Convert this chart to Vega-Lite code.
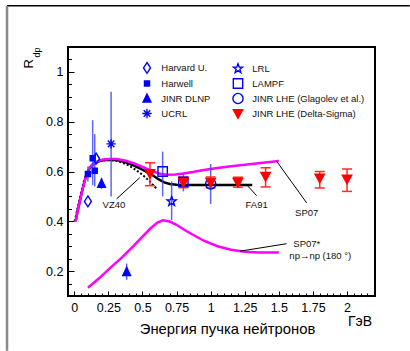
{
  "$schema": "https://vega.github.io/schema/vega-lite/v6.json",
  "width": 307,
  "height": 249,
  "autosize": "none",
  "padding": {"left": 68, "top": 47, "right": 35, "bottom": 55},
  "background": "white",
  "config": {
    "view": {"stroke": "black", "strokeWidth": 2},
    "font": "Liberation Sans",
    "axis": {"grid": false, "labelFont": "Liberation Sans", "labelFontSize": 12.5, "labelColor": "#000", "titleFont": "Liberation Sans", "titleColor": "#000", "tickColor": "#000", "tickWidth": 1}
  },
  "datasets": {
    "frameTop": [{"x": -0.493, "x2": 2.46, "y": 1.266}],
    "frameLeft": [{"x": -0.493, "y": 1.266, "y2": -0.12}],
    "curves": [
      {"series": "SP07", "E": 0.01, "R": 0.40}, {"series": "SP07", "E": 0.03, "R": 0.455}, {"series": "SP07", "E": 0.054, "R": 0.514}, {"series": "SP07", "E": 0.075, "R": 0.56}, {"series": "SP07", "E": 0.09, "R": 0.59}, {"series": "SP07", "E": 0.115, "R": 0.618}, {"series": "SP07", "E": 0.14, "R": 0.632}, {"series": "SP07", "E": 0.18, "R": 0.643}, {"series": "SP07", "E": 0.21, "R": 0.648}, {"series": "SP07", "E": 0.26, "R": 0.65}, {"series": "SP07", "E": 0.31, "R": 0.65}, {"series": "SP07", "E": 0.37, "R": 0.644}, {"series": "SP07", "E": 0.43, "R": 0.634}, {"series": "SP07", "E": 0.48, "R": 0.623}, {"series": "SP07", "E": 0.53, "R": 0.611}, {"series": "SP07", "E": 0.58, "R": 0.6}, {"series": "SP07", "E": 0.63, "R": 0.591}, {"series": "SP07", "E": 0.68, "R": 0.587}, {"series": "SP07", "E": 0.74, "R": 0.588}, {"series": "SP07", "E": 0.8, "R": 0.592}, {"series": "SP07", "E": 0.87, "R": 0.598}, {"series": "SP07", "E": 0.95, "R": 0.606}, {"series": "SP07", "E": 1.05, "R": 0.614}, {"series": "SP07", "E": 1.15, "R": 0.621}, {"series": "SP07", "E": 1.25, "R": 0.627}, {"series": "SP07", "E": 1.35, "R": 0.633}, {"series": "SP07", "E": 1.45, "R": 0.639}, {"series": "SP07", "E": 1.5, "R": 0.642},
      {"series": "FA91", "E": 0.01, "R": 0.40}, {"series": "FA91", "E": 0.03, "R": 0.455}, {"series": "FA91", "E": 0.054, "R": 0.514}, {"series": "FA91", "E": 0.075, "R": 0.56}, {"series": "FA91", "E": 0.09, "R": 0.588}, {"series": "FA91", "E": 0.115, "R": 0.615}, {"series": "FA91", "E": 0.14, "R": 0.63}, {"series": "FA91", "E": 0.18, "R": 0.641}, {"series": "FA91", "E": 0.21, "R": 0.645}, {"series": "FA91", "E": 0.26, "R": 0.647}, {"series": "FA91", "E": 0.31, "R": 0.646}, {"series": "FA91", "E": 0.37, "R": 0.638}, {"series": "FA91", "E": 0.43, "R": 0.626}, {"series": "FA91", "E": 0.48, "R": 0.613}, {"series": "FA91", "E": 0.53, "R": 0.598}, {"series": "FA91", "E": 0.58, "R": 0.583}, {"series": "FA91", "E": 0.62, "R": 0.568}, {"series": "FA91", "E": 0.66, "R": 0.556}, {"series": "FA91", "E": 0.7, "R": 0.55}, {"series": "FA91", "E": 0.75, "R": 0.547}, {"series": "FA91", "E": 0.85, "R": 0.546}, {"series": "FA91", "E": 1.0, "R": 0.546}, {"series": "FA91", "E": 1.15, "R": 0.546}, {"series": "FA91", "E": 1.305, "R": 0.546},
      {"series": "VZ40", "E": 0.003, "R": 0.40}, {"series": "VZ40", "E": 0.025, "R": 0.455}, {"series": "VZ40", "E": 0.05, "R": 0.515}, {"series": "VZ40", "E": 0.07, "R": 0.56}, {"series": "VZ40", "E": 0.085, "R": 0.585}, {"series": "VZ40", "E": 0.11, "R": 0.612}, {"series": "VZ40", "E": 0.135, "R": 0.628}, {"series": "VZ40", "E": 0.17, "R": 0.64}, {"series": "VZ40", "E": 0.21, "R": 0.645}, {"series": "VZ40", "E": 0.26, "R": 0.646}, {"series": "VZ40", "E": 0.31, "R": 0.643}, {"series": "VZ40", "E": 0.35, "R": 0.636}, {"series": "VZ40", "E": 0.4, "R": 0.624}, {"series": "VZ40", "E": 0.45, "R": 0.607}, {"series": "VZ40", "E": 0.5, "R": 0.587}, {"series": "VZ40", "E": 0.55, "R": 0.562}, {"series": "VZ40", "E": 0.61, "R": 0.527},
      {"series": "SP07*", "E": 0.1, "R": 0.133}, {"series": "SP07*", "E": 0.18, "R": 0.17}, {"series": "SP07*", "E": 0.26, "R": 0.211}, {"series": "SP07*", "E": 0.35, "R": 0.255}, {"series": "SP07*", "E": 0.43, "R": 0.298}, {"series": "SP07*", "E": 0.5, "R": 0.338}, {"series": "SP07*", "E": 0.56, "R": 0.372}, {"series": "SP07*", "E": 0.61, "R": 0.395}, {"series": "SP07*", "E": 0.65, "R": 0.404}, {"series": "SP07*", "E": 0.7, "R": 0.399}, {"series": "SP07*", "E": 0.75, "R": 0.386}, {"series": "SP07*", "E": 0.8, "R": 0.368}, {"series": "SP07*", "E": 0.87, "R": 0.346}, {"series": "SP07*", "E": 0.95, "R": 0.322}, {"series": "SP07*", "E": 1.05, "R": 0.3}, {"series": "SP07*", "E": 1.15, "R": 0.286}, {"series": "SP07*", "E": 1.25, "R": 0.278}, {"series": "SP07*", "E": 1.35, "R": 0.275}, {"series": "SP07*", "E": 1.5, "R": 0.275}
    ],
    "leaders": [
      {"E": 0.31, "R": 0.49, "E2": 0.48, "R2": 0.575},
      {"E": 1.265, "R": 0.546, "E2": 1.337, "R2": 0.503},
      {"E": 1.484, "R": 0.641, "E2": 1.704, "R2": 0.474},
      {"E": 1.215, "R": 0.28, "E2": 1.557, "R2": 0.31}
    ],
    "points": [
      {"exp": "Harvard U.", "E": 0.1, "R": 0.48},
      {"exp": "Harvard U.", "E": 0.16, "R": 0.652},
      {"exp": "Harwell", "E": 0.135, "R": 0.653},
      {"exp": "Harwell", "E": 0.15, "R": 0.603},
      {"exp": "Harwell", "E": 0.1, "R": 0.59},
      {"exp": "JINR DLNP", "E": 0.2, "R": 0.551},
      {"exp": "JINR DLNP", "E": 0.384, "R": 0.197},
      {"exp": "UCRL", "E": 0.27, "R": 0.711},
      {"exp": "LRL", "E": 0.714, "R": 0.48},
      {"exp": "LAMPF", "E": 0.648, "R": 0.6},
      {"exp": "LAMPF", "E": 0.8, "R": 0.558},
      {"exp": "JINR LHE (Glagolev et al.)", "E": 1.0, "R": 0.55},
      {"exp": "JINR LHE (Delta-Sigma)", "E": 0.555, "R": 0.592},
      {"exp": "JINR LHE (Delta-Sigma)", "E": 0.8, "R": 0.556},
      {"exp": "JINR LHE (Delta-Sigma)", "E": 1.0, "R": 0.557},
      {"exp": "JINR LHE (Delta-Sigma)", "E": 1.2, "R": 0.557},
      {"exp": "JINR LHE (Delta-Sigma)", "E": 1.403, "R": 0.581},
      {"exp": "JINR LHE (Delta-Sigma)", "E": 1.8, "R": 0.574},
      {"exp": "JINR LHE (Delta-Sigma)", "E": 2.0, "R": 0.57}
    ],
    "blueErr": [
      {"E": 0.135, "lo": 0.545, "hi": 0.806},
      {"E": 0.15, "lo": 0.54, "hi": 0.75},
      {"E": 0.1, "lo": 0.56, "hi": 0.62},
      {"E": 0.2, "lo": 0.53, "hi": 0.575},
      {"E": 0.384, "lo": 0.165, "hi": 0.23},
      {"E": 0.27, "lo": 0.5, "hi": 0.92},
      {"E": 0.714, "lo": 0.405, "hi": 0.56},
      {"E": 0.648, "lo": 0.5, "hi": 0.68},
      {"E": 0.8, "lo": 0.52, "hi": 0.594},
      {"E": 1.0, "lo": 0.47, "hi": 0.63}
    ],
    "redErr": [
      {"E": 0.555, "lo": 0.543, "hi": 0.635},
      {"E": 0.8, "lo": 0.535, "hi": 0.578},
      {"E": 1.0, "lo": 0.534, "hi": 0.578},
      {"E": 1.2, "lo": 0.537, "hi": 0.577},
      {"E": 1.403, "lo": 0.538, "hi": 0.615},
      {"E": 1.8, "lo": 0.534, "hi": 0.6},
      {"E": 2.0, "lo": 0.52, "hi": 0.61}
    ],
    "notesCenter": [
      {"label": "VZ40", "E": 0.291, "R": 0.4635},
      {"label": "FA91", "E": 1.337, "R": 0.4635},
      {"label": "SP07", "E": 1.704, "R": 0.434}
    ],
    "notesLeft": [
      {"label": "SP07*", "E": 1.606, "R": 0.307},
      {"label": "np→np (180 °)", "E": 1.577, "R": 0.259}
    ],
    "unit": [{"label": "ГэВ", "E": 2.095, "R": -0.022}],
    "yR": [{"label": "R", "E": -0.332, "R": 1.032}],
    "ySub": [{"label": "dp", "E": -0.27, "R": 1.078}]
  },
  "layer": [
    {
      "data": {"name": "frameTop"},
      "mark": {"type": "rule", "color": "#000", "strokeWidth": 1.5},
      "encoding": {
        "x": {"field": "x", "type": "quantitative", "scale": {"domain": [-0.046, 2.205], "nice": false, "zero": false}, "axis": null},
        "x2": {"field": "x2"},
        "y": {"field": "y", "type": "quantitative", "scale": {"domain": [0.1, 1.1], "nice": false, "zero": false}, "axis": null}
      }
    },
    {
      "data": {"name": "frameLeft"},
      "mark": {"type": "rule", "color": "#8a8a8a", "strokeWidth": 2.5},
      "encoding": {
        "x": {"field": "x", "type": "quantitative", "axis": null},
        "y": {"field": "y", "type": "quantitative", "axis": null},
        "y2": {"field": "y2"}
      }
    },
    {
      "data": {"name": "curves"},
      "transform": [{"filter": "datum.series === 'FA91'"}],
      "mark": {"type": "line", "color": "#000", "strokeWidth": 2.5},
      "encoding": {
        "x": {"field": "E", "type": "quantitative", "axis": {"orient": "bottom", "values": [0, 0.25, 0.5, 0.75, 1, 1.25, 1.5, 1.75, 2], "labelExpr": "'' + datum.value", "ticks": false, "domain": false, "labelPadding": 5, "labelFlush": false, "labelOverlap": false, "title": "Энергия пучка нейтронов", "titleFontSize": 14.8, "titleFontWeight": "normal", "titleX": 159, "titleY": 37, "titleBaseline": "alphabetic", "titleAlign": "center", "titleAnchor": null}},
        "y": {"field": "R", "type": "quantitative", "axis": {"orient": "left", "values": [0.2, 0.4, 0.6, 0.8, 1], "labelExpr": "'' + datum.value", "ticks": false, "domain": false, "labelPadding": 5, "labelFlush": false, "labelOverlap": false, "title": null}}
      }
    },
    {
      "data": {"name": "curves"},
      "transform": [{"filter": "datum.series === 'VZ40'"}],
      "mark": {"type": "line", "color": "#000", "strokeWidth": 2, "strokeDash": [2, 2]},
      "encoding": {
        "x": {"field": "E", "type": "quantitative", "axis": {"orient": "bottom", "values": [0, 0.25, 0.5, 0.75, 1, 1.25, 1.5, 1.75, 2], "labels": false, "domain": false, "ticks": true, "tickSize": -5, "title": null}},
        "y": {"field": "R", "type": "quantitative", "axis": {"orient": "left", "values": [0.2, 0.4, 0.6, 0.8, 1], "labels": false, "domain": false, "ticks": true, "tickSize": -6, "title": null}}
      }
    },
    {
      "data": {"name": "curves"},
      "transform": [{"filter": "datum.series === 'SP07'"}],
      "mark": {"type": "line", "color": "#ff00ff", "strokeWidth": 2.5},
      "encoding": {
        "x": {"field": "E", "type": "quantitative", "axis": {"orient": "bottom", "values": [0.05, 0.1, 0.15, 0.2, 0.3, 0.35, 0.4, 0.45, 0.55, 0.6, 0.65, 0.7, 0.8, 0.85, 0.9, 0.95, 1.05, 1.1, 1.15, 1.2, 1.3, 1.35, 1.4, 1.45, 1.55, 1.6, 1.65, 1.7, 1.8, 1.85, 1.9, 1.95, 2.05, 2.1, 2.15, 2.2], "labels": false, "domain": false, "ticks": true, "tickSize": -3, "title": null}},
        "y": {"field": "R", "type": "quantitative", "axis": {"orient": "left", "values": [0.15, 0.25, 0.3, 0.35, 0.45, 0.5, 0.55, 0.65, 0.7, 0.75, 0.85, 0.9, 0.95, 1.05], "labels": false, "domain": false, "ticks": true, "tickSize": -3.5, "title": null}}
      }
    },
    {
      "data": {"name": "curves"},
      "transform": [{"filter": "datum.series === 'SP07*'"}],
      "mark": {"type": "line", "color": "#ff00ff", "strokeWidth": 2.5},
      "encoding": {
        "x": {"field": "E", "type": "quantitative", "axis": null},
        "y": {"field": "R", "type": "quantitative", "axis": null}
      }
    },
    {
      "data": {"name": "leaders"},
      "mark": {"type": "rule", "color": "#000", "strokeWidth": 1},
      "encoding": {
        "x": {"field": "E", "type": "quantitative", "axis": null},
        "x2": {"field": "E2"},
        "y": {"field": "R", "type": "quantitative", "axis": null},
        "y2": {"field": "R2"}
      }
    },
    {
      "data": {"name": "blueErr"},
      "mark": {"type": "rule", "color": "#3f4cf2", "strokeWidth": 1.5, "opacity": 0.85},
      "encoding": {
        "x": {"field": "E", "type": "quantitative", "axis": null},
        "y": {"field": "lo", "type": "quantitative", "axis": null},
        "y2": {"field": "hi"}
      }
    },
    {
      "data": {"name": "redErr"},
      "mark": {"type": "rule", "color": "#ff2a2a", "strokeWidth": 1.5},
      "encoding": {
        "x": {"field": "E", "type": "quantitative", "axis": null},
        "y": {"field": "lo", "type": "quantitative", "axis": null},
        "y2": {"field": "hi"}
      }
    },
    {
      "data": {"name": "redErr"},
      "mark": {"type": "tick", "orient": "horizontal", "color": "#ff2a2a", "size": 10, "thickness": 1.5, "opacity": 1},
      "encoding": {
        "x": {"field": "E", "type": "quantitative", "axis": null},
        "y": {"field": "lo", "type": "quantitative", "axis": null}
      }
    },
    {
      "data": {"name": "redErr"},
      "mark": {"type": "tick", "orient": "horizontal", "color": "#ff2a2a", "size": 10, "thickness": 1.5, "opacity": 1},
      "encoding": {
        "x": {"field": "E", "type": "quantitative", "axis": null},
        "y": {"field": "hi", "type": "quantitative", "axis": null}
      }
    },
    {
      "data": {"name": "points"},
      "mark": {"type": "point", "size": 144, "strokeWidth": 1.4, "opacity": 1},
      "encoding": {
        "x": {"field": "E", "type": "quantitative", "axis": null},
        "y": {"field": "R", "type": "quantitative", "axis": null},
        "shape": {
          "field": "exp", "type": "nominal",
          "scale": {
            "domain": ["Harvard U.", "Harwell", "JINR DLNP", "UCRL", "LRL", "LAMPF", "JINR LHE (Glagolev et al.)", "JINR LHE (Delta-Sigma)"],
            "range": [
              "M0,-0.9L0.58,0L0,0.9L-0.58,0Z",
              "M-0.42,-0.42L0.42,-0.42L0.42,0.42L-0.42,0.42Z",
              "M0,-0.75L0.65,0.6L-0.65,0.6Z",
              "M0,-0.78L0,0.78M-0.78,0L0.78,0M-0.55,-0.55L0.55,0.55M-0.55,0.55L0.55,-0.55",
              "M0,-0.8L0.194,-0.267L0.761,-0.247L0.314,0.102L0.47,0.647L0,0.33L-0.47,0.647L-0.314,0.102L-0.761,-0.247L-0.194,-0.267Z",
              "M-0.78,-0.78L0.78,-0.78L0.78,0.78L-0.78,0.78Z",
              "M0.85,0A0.85,0.85,0,1,1,-0.85,0A0.85,0.85,0,1,1,0.85,0Z",
              "M-0.78,-0.62L0.78,-0.62L0,0.8Z"
            ]
          },
          "legend": {"title": null, "orient": "none", "legendX": 72, "legendY": 13.5, "columns": 2, "columnPadding": 19, "rowPadding": -2.2, "padding": 0, "offset": 0, "symbolSize": 144, "symbolStrokeWidth": 1.4, "labelFont": "Liberation Sans", "labelFontSize": 9.5, "labelColor": "#111", "labelOffset": 7.3, "labelLimit": 300}
        },
        "fill": {
          "field": "exp", "type": "nominal",
          "scale": {
            "domain": ["Harvard U.", "Harwell", "JINR DLNP", "UCRL", "LRL", "LAMPF", "JINR LHE (Glagolev et al.)", "JINR LHE (Delta-Sigma)"],
            "range": ["transparent", "#0000ff", "#0000ff", "#0000ff", "transparent", "transparent", "transparent", "#ff0000"]
          }
        },
        "stroke": {
          "field": "exp", "type": "nominal",
          "scale": {
            "domain": ["Harvard U.", "Harwell", "JINR DLNP", "UCRL", "LRL", "LAMPF", "JINR LHE (Glagolev et al.)", "JINR LHE (Delta-Sigma)"],
            "range": ["#0000ff", "#0000ff", "#0000ff", "#0000ff", "#0000ff", "#0000ff", "#0000ff", "#ff0000"]
          }
        }
      }
    },
    {
      "data": {"name": "notesCenter"},
      "mark": {"type": "text", "font": "Liberation Sans", "fontSize": 9.5, "color": "#111", "align": "center", "baseline": "middle"},
      "encoding": {
        "x": {"field": "E", "type": "quantitative", "axis": null},
        "y": {"field": "R", "type": "quantitative", "axis": null},
        "text": {"field": "label"}
      }
    },
    {
      "data": {"name": "notesLeft"},
      "mark": {"type": "text", "font": "Liberation Sans", "fontSize": 9.5, "color": "#111", "align": "left", "baseline": "middle"},
      "encoding": {
        "x": {"field": "E", "type": "quantitative", "axis": null},
        "y": {"field": "R", "type": "quantitative", "axis": null},
        "text": {"field": "label"}
      }
    },
    {
      "data": {"name": "unit"},
      "mark": {"type": "text", "font": "Liberation Sans", "fontSize": 14, "color": "#000", "align": "center", "baseline": "alphabetic"},
      "encoding": {
        "x": {"field": "E", "type": "quantitative", "axis": null},
        "y": {"field": "R", "type": "quantitative", "axis": null},
        "text": {"field": "label"}
      }
    },
    {
      "data": {"name": "yR"},
      "mark": {"type": "text", "font": "Liberation Sans", "fontSize": 13, "color": "#000", "align": "center", "baseline": "middle", "angle": 270},
      "encoding": {
        "x": {"field": "E", "type": "quantitative", "axis": null},
        "y": {"field": "R", "type": "quantitative", "axis": null},
        "text": {"field": "label"}
      }
    },
    {
      "data": {"name": "ySub"},
      "mark": {"type": "text", "font": "Liberation Sans", "fontSize": 9, "color": "#000", "align": "center", "baseline": "middle", "angle": 270},
      "encoding": {
        "x": {"field": "E", "type": "quantitative", "axis": null},
        "y": {"field": "R", "type": "quantitative", "axis": null},
        "text": {"field": "label"}
      }
    }
  ],
  "resolve": {"axis": {"x": "independent", "y": "independent"}}
}
